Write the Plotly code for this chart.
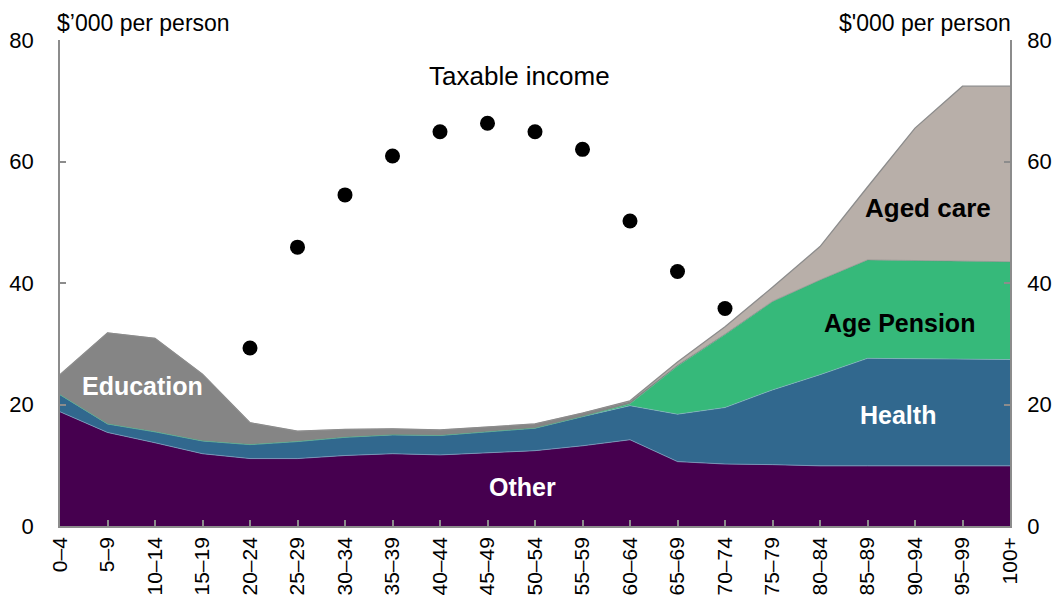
import plotly.graph_objects as go

age_groups = ["0–4", "5–9", "10–14", "15–19", "20–24", "25–29", "30–34", "35–39",
              "40–44", "45–49", "50–54", "55–59", "60–64", "65–69", "70–74", "75–79",
              "80–84", "85–89", "90–94", "95–99", "100+"]

other = [18.8, 15.4, 13.7, 11.9, 11.1, 11.1, 11.6, 11.9, 11.7, 12.1, 12.4, 13.2, 14.2,
         10.6, 10.2, 10.1, 9.9, 9.9, 9.9, 9.9, 9.9]
health = [2.8, 1.4, 1.8, 2.1, 2.3, 2.8, 3.0, 3.1, 3.2, 3.4, 3.7, 4.8, 5.6,
          7.8, 9.3, 12.3, 15.0, 17.7, 17.6, 17.5, 17.5]
age_pension = [0, 0, 0, 0, 0, 0, 0, 0, 0, 0, 0, 0, 0.3,
               7.9, 12.0, 14.5, 15.6, 16.2, 16.2, 16.1, 16.1]
education = [3.3, 15.0, 15.4, 11.0, 3.6, 1.7, 1.3, 1.0, 0.9, 0.8, 0.7, 0.6, 0.4,
             0.2, 0.1, 0.1, 0, 0, 0, 0, 0]
aged_care = [0, 0, 0, 0, 0, 0, 0, 0, 0, 0, 0, 0, 0.1,
             0.5, 1.2, 2.3, 5.5, 12.0, 21.8, 28.9, 28.9]
taxable_income = [None, None, None, None, 29.3, 45.9, 54.5, 60.9, 64.9, 66.3, 64.9, 62.0,
                  50.2, 41.9, 35.8, None, None, None, None, None, None]

FONT = "Liberation Sans, Arial, sans-serif"
AXIS_GREY = "#8c8c8c"

fig = go.Figure()

def area(name, vals, fill, line_color, line_width):
    fig.add_trace(go.Scatter(
        x=age_groups, y=vals, name=name, mode="lines", stackgroup="one",
        fillcolor=fill, line=dict(color=line_color, width=line_width),
        hoverinfo="x+y+name"))

area("Other", other, "#46004f", "#7a9cbc", 0.8)
area("Health", health, "#31688e", "#8fb0c8", 0.6)
area("Age Pension", age_pension, "#36b97a", "#36b97a", 0.5)
area("Education", education, "#858585", "#858585", 0.5)
area("Aged care", aged_care, "#b8afa9", "#8c8c8c", 1.3)

fig.add_trace(go.Scatter(
    x=age_groups, y=taxable_income, name="Taxable income", mode="markers",
    marker=dict(color="black", size=15, line=dict(width=0))))

# invisible trace for right axis
fig.add_trace(go.Scatter(x=age_groups, y=other, yaxis="y2", mode="lines",
                         line=dict(width=0), showlegend=False, hoverinfo="skip",
                         opacity=0))

axis_common = dict(range=[0, 80], dtick=20, showgrid=False, zeroline=False,
                   showline=True, linecolor=AXIS_GREY, linewidth=1.5,
                   ticks="inside", ticklen=6, tickcolor=AXIS_GREY, tickwidth=1.5,
                   automargin=False,
                   tickfont=dict(family=FONT, size=22, color="black"))

# page body has an 8px margin, so the figure is placed at (8, 8);
# size chosen so the page does not overflow the 1060x606 window
fig.update_layout(
    width=1044, height=590,
    margin=dict(l=52, r=42, t=32, b=72, autoexpand=False),
    paper_bgcolor="white", plot_bgcolor="white",
    showlegend=False,
    font=dict(family=FONT, color="black"),
    xaxis=dict(range=[0, 20], showgrid=False, zeroline=False, showline=True,
               linecolor=AXIS_GREY, linewidth=1.5, ticks="inside", ticklen=6,
               tickcolor=AXIS_GREY, tickwidth=1.5, tickangle=-90, automargin=False,
               ticklabelstandoff=1,
               tickfont=dict(family=FONT, size=21, color="black")),
    yaxis=dict(side="left", ticklabelstandoff=20, **axis_common),
    yaxis2=dict(side="right", overlaying="y", anchor="x", ticklabelstandoff=11,
                **axis_common),
)

ann = []
ann.append(dict(text="$’000 per person", xref="paper", yref="paper", x=0, y=1,
                xanchor="left", yanchor="bottom", xshift=-4, yshift=3, showarrow=False,
                borderpad=0, font=dict(family=FONT, size=23, color="black")))
ann.append(dict(text="$'000 per person", xref="paper", yref="paper", x=1, y=1,
                xanchor="right", yanchor="bottom", xshift=2, yshift=3, showarrow=False,
                borderpad=0, font=dict(family=FONT, size=23, color="black")))
labels = [
    ("Taxable income", 9.68, 74.0, "black", False, 26),
    ("Education", 1.73, 23.0, "white", True, 25),
    ("Other", 9.73, 6.4, "white", True, 25),
    ("Health", 17.64, 18.3, "white", True, 25),
    ("Age Pension", 17.68, 33.4, "black", True, 25),
    ("Aged care", 18.27, 52.3, "black", True, 26),
]
for text, x, y, col, bold, size in labels:
    ann.append(dict(text=f"<b>{text}</b>" if bold else text, x=x, y=y, xref="x", yref="y",
                    showarrow=False, font=dict(family=FONT, size=size, color=col)))
fig.update_layout(annotations=ann)

fig.write_html("out.html")
